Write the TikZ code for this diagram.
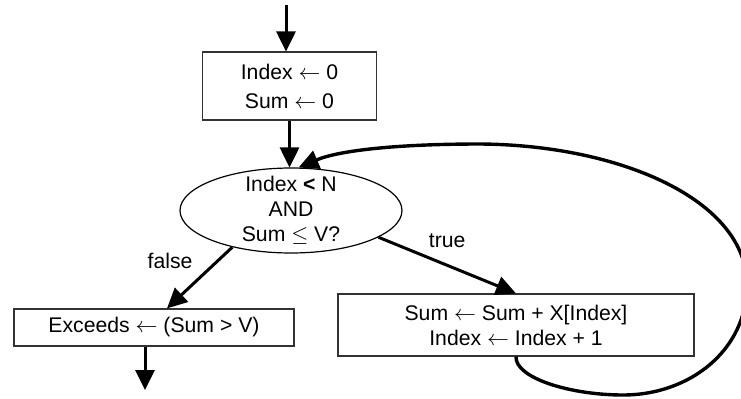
\documentclass[tikz,border=0pt]{standalone}
\usepackage{amsmath}
\usepackage{amssymb}
\usepackage{fontspec}
\setmainfont{Liberation Sans}
\usetikzlibrary{shapes, arrows.meta}

\begin{document}
\begin{tikzpicture}[x=0.5pt, y=-0.5pt,
    every node/.style={font=\fontsize{10.6}{12.5}\selectfont},
    stepbox/.style={rectangle, draw=black!80, line width=0.6pt, align=center, inner sep=0pt},
    testbox/.style={ellipse, draw, line width=0.6pt, align=center, inner xsep=0pt, inner ysep=-6pt,
        minimum width=111pt, minimum height=42.5pt},
    flow/.style={-{Triangle[length=10pt,width=9.5pt]}, line width=1.5pt},
    tag/.style={inner sep=1pt}]
    \useasboundingbox (0,0) rectangle (741,398);

    % Define nodes
    \node (init) [stepbox, minimum width=87pt, minimum height=34pt] at (289.5,86) {Index $\leftarrow$ 0\\[2pt]Sum $\leftarrow$ 0};
    \node (test) [testbox] at (291,210.5) {Index \textbf{<} N\\AND\\Sum $\leq$ V?};
    \node (exceeds) [stepbox, minimum width=140pt, minimum height=18.5pt] at (154,327.5) {Exceeds $\leftarrow$ (Sum > V)};
    \node (update) [stepbox, minimum width=178pt, minimum height=31pt] at (516,325) {Sum $\leftarrow$ Sum + X[Index]\\Index $\leftarrow$ Index + 1};
    \coordinate (in) at (286,5);
    \coordinate (out) at (145,390);

    % Draw edges
    \draw[flow] (in) -- (in |- init.north);
    \draw[flow] (init.south) -- (init.south |- test.north);
    \draw[flow] (test.212) -- node[tag, left=11pt, pos=0.22] {false} ([xshift=6.5pt]exceeds.north);
    \draw[flow] (test.-17) -- node[tag, above=7pt, pos=0.5] {true} (update.north);
    \draw[flow] ([xshift=-4.5pt]exceeds.south) -- (out);

    % loop back
    \draw[flow, line width=1.7pt] (update.south) .. controls (515,378) and (570,395) .. (623,395)
        .. controls (690,395) and (747,350) .. (747,285)
        .. controls (747,200) and (620,145) .. (480,144)
        .. controls (400,144) and (340,150) .. (test.80);
\end{tikzpicture}
\end{document}
